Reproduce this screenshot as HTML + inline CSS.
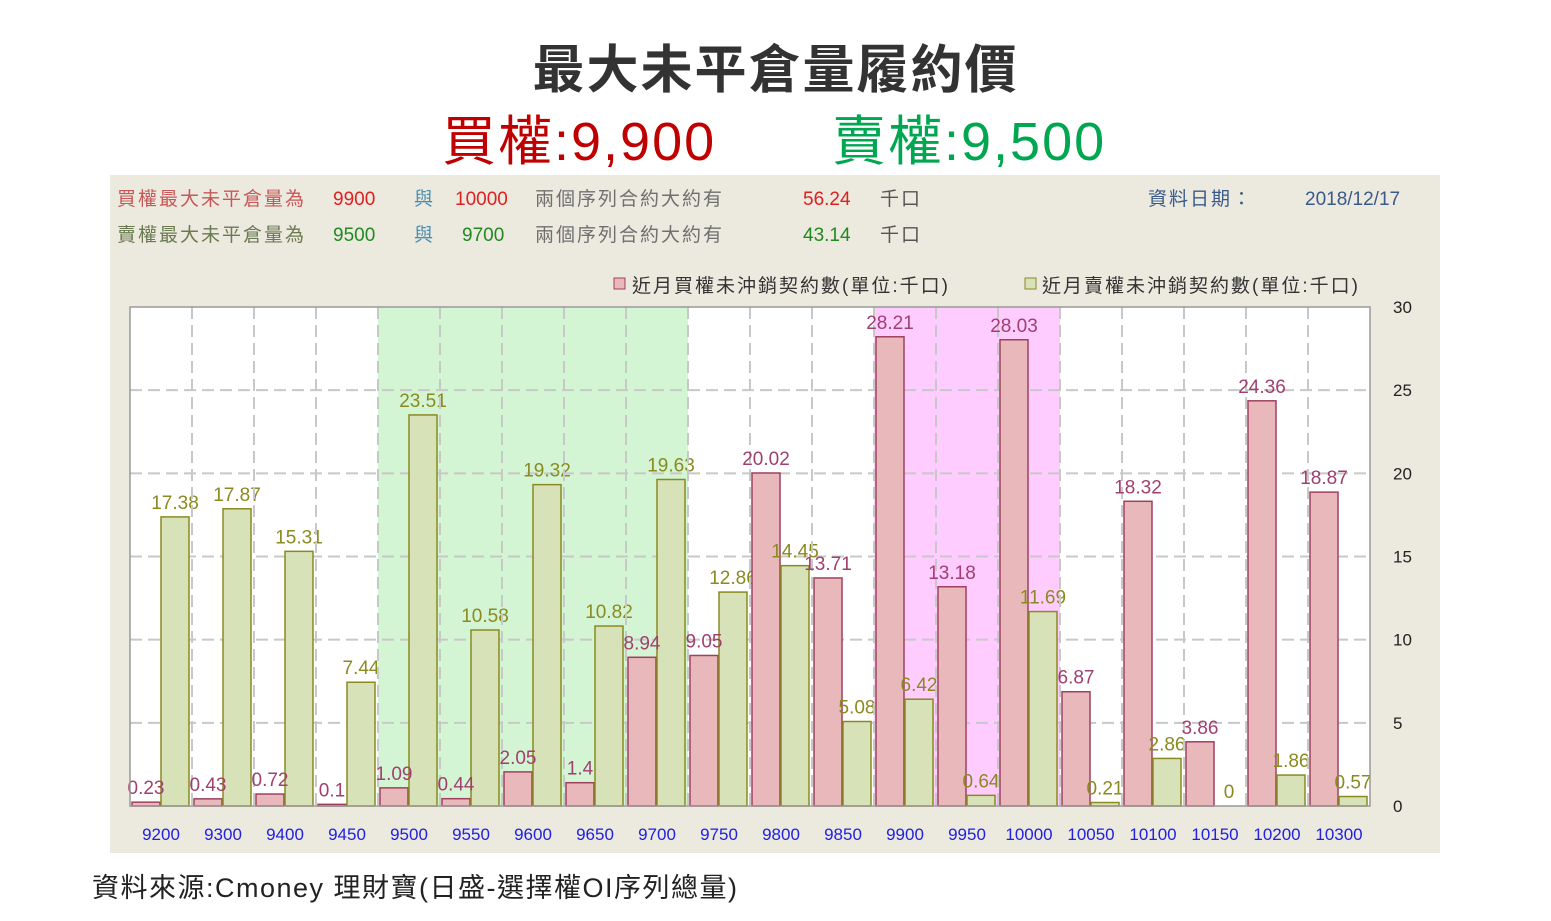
<!DOCTYPE html>
<html><head><meta charset="utf-8">
<style>
body{margin:0;width:1551px;height:921px;background:#fff;overflow:hidden;font-family:"Liberation Sans","Noto Sans CJK TC",sans-serif;}
.t{position:absolute;white-space:nowrap;}
</style></head>
<body>
<div class="t" style="left:0;width:1551px;text-align:center;top:28px;font-size:52px;color:#333;font-weight:bold;letter-spacing:2px;">最大未平倉量履約價</div>
<div class="t" style="left:442px;top:97px;font-size:54px;color:#c00000;letter-spacing:2px;">買權:9,900</div>
<div class="t" style="left:832px;top:97px;font-size:54px;color:#00a650;letter-spacing:2px;">賣權:9,500</div>
<div style="position:absolute;left:110px;top:175px;width:1330px;height:678px;background:#ece9df;"></div>
<svg width="1551" height="921" style="position:absolute;left:0;top:0" font-family="Liberation Sans, Noto Sans CJK TC, sans-serif">
<g font-size="19">
<text x="117" y="205" fill="#c85858" letter-spacing="2">買權最大未平倉量為</text>
<text x="333" y="205" fill="#e02020">9900</text>
<text x="414" y="205" fill="#4a8fb0">與</text>
<text x="455" y="205" fill="#e02020">10000</text>
<text x="535" y="205" fill="#707070" letter-spacing="2">兩個序列合約大約有</text>
<text x="803" y="205" fill="#e02020">56.24</text>
<text x="880" y="205" fill="#555" letter-spacing="2">千口</text>
<text x="1148" y="205" fill="#3a5a8a" letter-spacing="2">資料日期：</text>
<text x="1305" y="205" fill="#3a5a8a">2018/12/17</text>
<text x="117" y="241" fill="#6a7a50" letter-spacing="2">賣權最大未平倉量為</text>
<text x="333" y="241" fill="#208a20">9500</text>
<text x="414" y="241" fill="#4a8fb0">與</text>
<text x="462" y="241" fill="#208a20">9700</text>
<text x="535" y="241" fill="#707070" letter-spacing="2">兩個序列合約大約有</text>
<text x="803" y="241" fill="#208a20">43.14</text>
<text x="880" y="241" fill="#555" letter-spacing="2">千口</text>
</g>
<g font-size="19" fill="#333" letter-spacing="2">
<rect x="614" y="278" width="11" height="11" fill="#e8b8bb" stroke="#a04060"/>
<text x="632" y="292">近月買權未沖銷契約數(單位:千口)</text>
<rect x="1025" y="278" width="11" height="11" fill="#d8e2b8" stroke="#8a8a20"/>
<text x="1042" y="292">近月賣權未沖銷契約數(單位:千口)</text>
</g>
<g id="plot"></g>
</svg>
<div class="t" style="left:92px;top:866px;font-size:27px;color:#222;letter-spacing:1.5px;">資料來源:Cmoney 理財寶(日盛-選擇權OI序列總量)</div>
<script>
const categories=["9200","9300","9400","9450","9500","9550","9600","9650","9700","9750","9800","9850","9900","9950","10000","10050","10100","10150","10200","10300"];
const callValues=[0.23,0.43,0.72,0.1,1.09,0.44,2.05,1.4,8.94,9.05,20.02,13.71,28.21,13.18,28.03,6.87,18.32,3.86,24.36,18.87];
const putValues=[17.38,17.87,15.31,7.44,23.51,10.58,19.32,10.82,19.63,12.86,14.45,5.08,6.42,0.64,11.69,0.21,2.86,0,1.86,0.57];
const yTicks=[0,5,10,15,20,25,30];
const putBand=[4,8], callBand=[12,14];
const L=130,R=1370,T=307,B=806,YMAX=30;
const cw=(R-L)/categories.length;
const x=i=>L+i*cw;
const y=v=>B-(v/YMAX)*(B-T);
const NS="http://www.w3.org/2000/svg";
const g=document.getElementById('plot');
function el(t,a,p){const e=document.createElementNS(NS,t);for(const k in a)e.setAttribute(k,a[k]);(p||g).appendChild(e);return e;}
const bg=el('rect',{x:L,y:T,width:R-L,height:B-T,fill:'#fff'});


const pb=el('rect',{x:x(putBand[0]),y:T,width:x(putBand[1]+1)-x(putBand[0]),height:B-T,fill:'#d4f5d4'});


const cb=el('rect',{x:x(callBand[0]),y:T,width:x(callBand[1]+1)-x(callBand[0]),height:B-T,fill:'#ffccff'});


yTicks.forEach(v=>{
 if(v>0&&v<YMAX){const l=el('line',{x1:L,x2:R,y1:y(v),y2:y(v),stroke:'#c8c8c8','stroke-dasharray':'12,6','stroke-width':2});
 
 }
 const t=el('text',{x:1393,y:y(v)+6,'font-size':17,fill:'#222'});t.textContent=v;
 
 
});
categories.forEach((c,i)=>{
 if(i>0){const l=el('line',{x1:x(i),x2:x(i),y1:T,y2:B,stroke:'#c8c8c8','stroke-dasharray':'12,6','stroke-width':2});
 
 }
 const cv=callValues[i],pv=putValues[i];
 const b1=el('rect',{x:x(i)+2,y:y(cv),width:28,height:B-y(cv),fill:'#e8b8bb',stroke:'#a04060','stroke-width':1.5});
 
 
 const b2=el('rect',{x:x(i)+31,y:y(pv),width:28,height:B-y(pv),fill:'#d8e2b8',stroke:'#8a8a20','stroke-width':1.5});
 
 
 const t1=el('text',{x:x(i)+16,y:y(cv)-8,'font-size':19,fill:'#a04070','text-anchor':'middle'});t1.textContent=cv;
 
 
 const t2=el('text',{x:x(i)+45,y:y(pv)-8,'font-size':19,fill:'#8a8a20','text-anchor':'middle'});t2.textContent=pv;
 
 
 const xt=el('text',{x:x(i)+cw/2,y:840,'font-size':17,fill:'#2020e0','text-anchor':'middle'});xt.textContent=c;
 
 
});
const fr=el('rect',{x:L,y:T,width:R-L,height:B-T,fill:'none',stroke:'#999','stroke-width':1.5});


</script>
</body></html>
